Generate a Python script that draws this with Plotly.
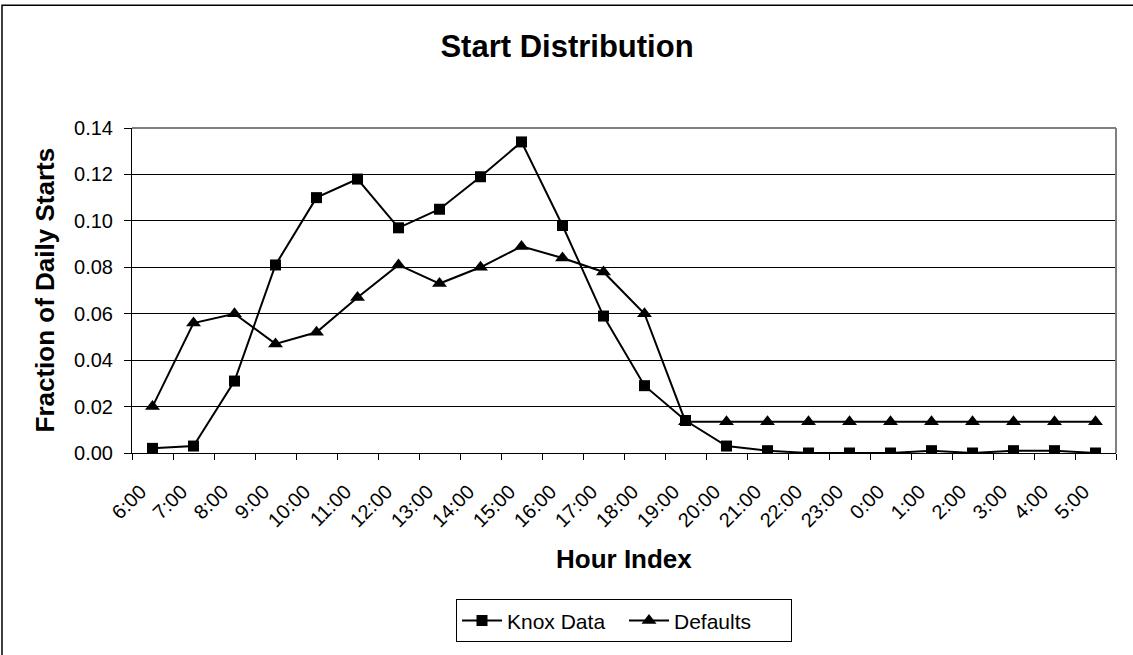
import plotly.graph_objects as go

hours = ["6:00", "7:00", "8:00", "9:00", "10:00", "11:00", "12:00", "13:00",
         "14:00", "15:00", "16:00", "17:00", "18:00", "19:00", "20:00", "21:00",
         "22:00", "23:00", "0:00", "1:00", "2:00", "3:00", "4:00", "5:00"]

knox_data = [0.002, 0.003, 0.031, 0.081, 0.110, 0.118, 0.097, 0.105,
             0.119, 0.134, 0.098, 0.059, 0.029, 0.014, 0.003, 0.001,
             0.0, 0.0, 0.0, 0.001, 0.0, 0.001, 0.001, 0.0]

defaults = [0.020, 0.056, 0.060, 0.047, 0.052, 0.067, 0.081, 0.073,
            0.080, 0.089, 0.084, 0.078, 0.060, 0.0135, 0.0135, 0.0135,
            0.0135, 0.0135, 0.0135, 0.0135, 0.0135, 0.0135, 0.0135, 0.0135]

FONT = "Arial, Liberation Sans, sans-serif"

# plot area in pixels
L, R, T, B = 132, 1116, 128, 459
W, H = 1133, 655

fig = go.Figure()
fig.add_trace(go.Scatter(
    x=hours, y=knox_data, name="Knox Data", mode="lines+markers",
    line=dict(color="black", width=2),
    marker=dict(symbol="square", size=11, color="black"),
))
fig.add_trace(go.Scatter(
    x=hours, y=defaults, name="Defaults", mode="lines+markers",
    line=dict(color="black", width=2),
    marker=dict(symbol="triangle-up", size=13, color="black"),
))

fig.update_layout(
    width=W, height=H,
    margin=dict(l=L, r=W - R, t=T, b=H - B),
    paper_bgcolor="white", plot_bgcolor="white",
    font=dict(family=FONT, color="black", size=20),
    title=dict(text="<b>Start Distribution</b>", x=567 / W, xanchor="center",
               y=1 - 46 / H, yanchor="middle",
               font=dict(family=FONT, size=31, color="black")),
    showlegend=True,
    legend=dict(orientation="h", x=0.5, xanchor="center", y=(B - 608) / (B - T), yanchor="top",
                bordercolor="black", borderwidth=1, bgcolor="white",
                font=dict(family=FONT, size=21, color="black"),
                itemwidth=40, entrywidth=112, tracegroupgap=0),
    xaxis=dict(
        type="category", range=[-0.5, 23.5], tickson="boundaries",
        showgrid=False, showline=True, linecolor="black", linewidth=1,
        ticks="outside", ticklen=6, tickcolor="black", tickangle=-45,
        ticklabelshift=-12, ticklabelstandoff=18,
        tickfont=dict(family=FONT, size=20, color="black"),
        zeroline=False, fixedrange=True, automargin=False,
    ),
    yaxis=dict(
        range=[0, 0.14], dtick=0.02, tickformat=".2f",
        showgrid=True, gridcolor="black", gridwidth=1,
        showline=True, linecolor="black", linewidth=1,
        ticks="outside", ticklen=7, tickcolor="black", ticklabelstandoff=7,
        tickfont=dict(family=FONT, size=20, color="black"),
        zeroline=False, fixedrange=True, automargin=False,
    ),
    annotations=[
        dict(text="<b>Fraction of Daily Starts</b>", xref="paper", yref="paper",
             x=(44 - L) / (R - L), y=0.5, xanchor="center", yanchor="middle",
             textangle=-90, showarrow=False,
             font=dict(family=FONT, size=26, color="black")),
        dict(text="<b>Hour Index</b>", xref="paper", yref="paper",
             x=0.5, y=(B - 567) / (B - T), xanchor="center", yanchor="middle",
             showarrow=False, font=dict(family=FONT, size=26, color="black")),
    ],
    shapes=[
        # gray frame on the top and right of the plot area
        dict(type="line", xref="paper", yref="paper", x0=0, x1=1, y0=1, y1=1,
             line=dict(color="#808080", width=2)),
        dict(type="line", xref="paper", yref="paper", x0=1, x1=1, y0=0, y1=1,
             line=dict(color="#808080", width=2)),
        # outer chart border
        dict(type="rect", xref="paper", yref="paper",
             x0=(2 - L) / (R - L), x1=(1140 - L) / (R - L),
             y0=(B - 700) / (B - T), y1=(B - 3) / (B - T),
             line=dict(color="black", width=1.5), layer="below"),
    ],
)

fig.write_html("out.html")
